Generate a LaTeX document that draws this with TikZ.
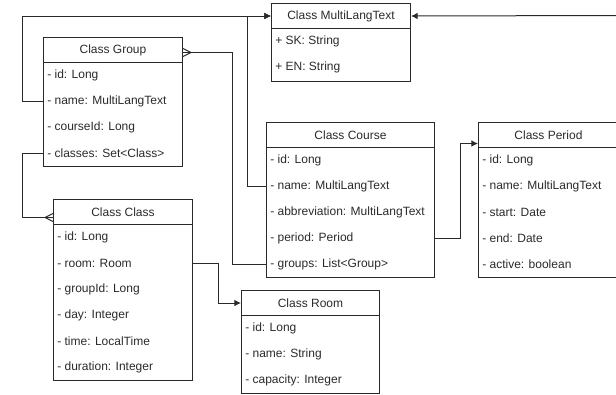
\documentclass[tikz,border=0pt]{standalone}
\usepackage{fontspec}
\setmainfont{Liberation Sans}
\usetikzlibrary{arrows.meta,calc}
\definecolor{ink}{HTML}{2A2A2A}
\begin{document}
\begin{tikzpicture}[x=0.75pt,y=-0.75pt,
  font=\fontsize{9}{11}\selectfont, color=ink,
  classbox/.style={draw=ink, line width=0.75pt, anchor=north west, inner sep=0pt},
  header/.style={draw=ink, line width=0.75pt, anchor=north west, inner sep=0pt, minimum height=18.75pt},
  row/.style={anchor=west, inner xsep=3pt, inner ysep=0pt},
  conn/.style={draw=ink, line width=0.75pt},
  arr/.style={conn, -{Latex[length=5pt,width=5pt]}},
]
\useasboundingbox (0,0) rectangle (616,394);

% MultiLangText
\node[classbox, minimum width=104.25pt, minimum height=58.5pt] (mlt) at (271,3) {};
\node[header, minimum width=104.25pt] (mlth) at (271,3) {Class MultiLangText};
\node[row] (mlt-sk) at (271,41) {+ SK: String};
\node[row] (mlt-en) at (271,67) {+ EN: String};

% Group
\node[classbox, minimum width=104.25pt, minimum height=96.75pt] (grp) at (43,37) {};
\node[header, minimum width=104.25pt] (grph) at (43,37) {Class Group};
\node[row] (grp-id) at (43,75) {- id: Long};
\node[row] (grp-name) at (43,101) {- name: MultiLangText};
\node[row] (grp-course) at (43,127) {- courseId: Long};
\node[row] (grp-classes) at (43,153) {- classes: Set<Class>};

% Course
\node[classbox, minimum width=126pt, minimum height=116.25pt] (crs) at (266,122) {};
\node[header, minimum width=126pt] (crsh) at (266,122) {Class Course};
\node[row] (crs-id) at (266,160) {- id: Long};
\node[row] (crs-name) at (266,186) {- name: MultiLangText};
\node[row] (crs-abbr) at (266,212) {- abbreviation: MultiLangText};
\node[row] (crs-period) at (266,238) {- period: Period};
\node[row] (crs-groups) at (266,264) {- groups: List<Group>};

% Period
\node[classbox, minimum width=105pt, minimum height=116.25pt] (per) at (478,122) {};
\node[header, minimum width=105pt] (perh) at (478,122) {Class Period};
\node[row] (per-id) at (478,160) {- id: Long};
\node[row] (per-name) at (478,186) {- name: MultiLangText};
\node[row] (per-start) at (478,212) {- start: Date};
\node[row] (per-end) at (478,238) {- end: Date};
\node[row] (per-active) at (478,264) {- active: boolean};

% Class
\node[classbox, minimum width=104.25pt, minimum height=135.75pt] (cls) at (53,199) {};
\node[header, minimum width=104.25pt] (clsh) at (53,199) {Class Class};
\node[row] (cls-id) at (53,237) {- id: Long};
\node[row] (cls-room) at (53,263) {- room: Room};
\node[row] (cls-group) at (53,289) {- groupId: Long};
\node[row] (cls-day) at (53,315) {- day: Integer};
\node[row] (cls-time) at (53,341) {- time: LocalTime};
\node[row] (cls-dur) at (53,367) {- duration: Integer};

% Room
\node[classbox, minimum width=103.5pt, minimum height=77.25pt] (rom) at (241,290) {};
\node[header, minimum width=103.5pt] (romh) at (241,290) {Class Room};
\node[row] (rom-id) at (241,328) {- id: Long};
\node[row] (rom-name) at (241,354) {- name: String};
\node[row] (rom-cap) at (241,380) {- capacity: Integer};

% connectors
\draw[arr] (grp-name.west) -- ++(-21,0) |- (mlth.west);
\draw[arr] (crs-name.west) -- ++(-19,0) |- (mlth.west);
\coordinate (rightend) at (616,15.5);
\draw[arr] (rightend) -- (mlth.east);

\coordinate (gcf) at ($(grph.east)+(0,2.5)$);
\draw[conn] (gcf) -- ++(49,0) |- (crs-groups.west);
\draw[conn] ($(gcf)+(8,0)$) -- ($(gcf)+(0,-4)$) ($(gcf)+(8,0)$) -- ($(gcf)+(0,4)$);

\coordinate (ccf) at ($(clsh.west)+(0,5.5)$);
\draw[conn] (grp-classes.west) -- ++(-21,0) |- (ccf);
\draw[conn] ($(ccf)+(-8,0)$) -- ($(ccf)+(0,-4)$) ($(ccf)+(-8,0)$) -- ($(ccf)+(0,4)$);

\draw[arr] (cls.east |- cls-room) -- ++(25,0) |- (romh.west);

\coordinate (pa) at ($(perh.west)+(0,8.5)$);
\draw[arr] (crs.east |- crs-period) -- ++(25,0) |- (pa);
\end{tikzpicture}
\end{document}
